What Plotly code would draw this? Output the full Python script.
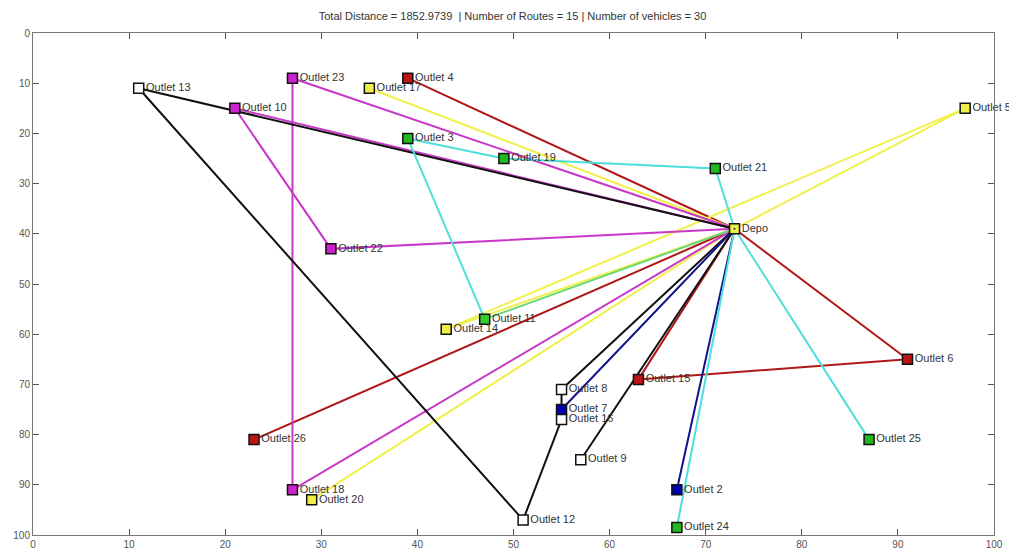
import plotly.graph_objects as go

# ---- data ----
node_names = ["Depo", "Outlet 2", "Outlet 3", "Outlet 4", "Outlet 5", "Outlet 6", "Outlet 7",
              "Outlet 8", "Outlet 9", "Outlet 10", "Outlet 11", "Outlet 12", "Outlet 13",
              "Outlet 14", "Outlet 15", "Outlet 16", "Outlet 17", "Outlet 18", "Outlet 19",
              "Outlet 20", "Outlet 21", "Outlet 22", "Outlet 23", "Outlet 24", "Outlet 25",
              "Outlet 26"]
node_x = [73, 67, 39, 39, 97, 91, 55, 55, 57, 21, 47, 51, 11, 43, 63, 55, 35, 27, 49, 29, 71, 31, 27, 67, 87, 23]
node_y = [39, 91, 21, 9, 15, 65, 75, 71, 85, 15, 57, 97, 11, 59, 69, 77, 11, 91, 25, 93, 27, 43, 9, 98.5, 81, 81]
node_fill = ["#eeee44", "#0000b0", "#22b822", "#bb1515", "#eeee44", "#bb1515", "#0000b0",
             "#ffffff", "#ffffff", "#cc22cc", "#33cc33", "#ffffff", "#ffffff",
             "#eeee44", "#bb1515", "#ffffff", "#eeee44", "#cc22cc", "#22b822",
             "#eeee44", "#22b822", "#cc22cc", "#cc22cc", "#22b822", "#22b822",
             "#bb1515"]

routes = [
    ["Depo", "Outlet 4", "Depo"],
    ["Depo", "Outlet 26", "Depo"],
    ["Depo", "Outlet 6", "Outlet 15", "Depo"],
    ["Depo", "Outlet 17", "Depo"],
    ["Depo", "Outlet 14", "Outlet 5", "Depo"],
    ["Depo", "Outlet 20", "Depo"],
    ["Depo", "Outlet 23", "Outlet 18", "Depo"],
    ["Depo", "Outlet 10", "Outlet 22", "Depo"],
    ["Depo", "Outlet 8", "Outlet 16", "Outlet 12", "Outlet 13", "Depo"],
    ["Depo", "Outlet 9", "Depo"],
    ["Depo", "Outlet 7", "Depo"],
    ["Depo", "Outlet 2", "Depo"],
    ["Depo", "Outlet 21", "Outlet 19", "Outlet 3", "Outlet 11"],
    ["Outlet 11", "Depo"],
    ["Depo", "Outlet 24", "Depo"],
    ["Depo", "Outlet 25", "Depo"],
]
route_colors = ["#b01818", "#b01818", "#b01818",
                "#f0f04a", "#f0f04a", "#f0f04a",
                "#c838c8", "#c838c8",
                "#111111", "#111111",
                "#12128c", "#12128c",
                "#4fdede", "#6ad878", "#4fdede", "#4fdede"]

title_text = "Total Distance = 1852.9739  | Number of Routes = 15 | Number of vehicles = 30"

# ---- figure ----
idx = {n: i for i, n in enumerate(node_names)}
fig = go.Figure()
for seq, col in zip(routes, route_colors):
    fig.add_trace(go.Scatter(
        x=[node_x[idx[n]] for n in seq], y=[node_y[idx[n]] for n in seq],
        mode="lines", line=dict(color=col, width=2), hoverinfo="skip", showlegend=False))

fig.add_trace(go.Scatter(
    x=node_x, y=node_y, mode="markers+text", text=node_names,
    textposition="middle right", cliponaxis=False,
    textfont=dict(family="Liberation Sans, Arial, sans-serif", size=11, color="#333333"),
    marker=dict(symbol="square", size=10, color=node_fill, line=dict(color="#111111", width=1.5)),
    showlegend=False))
# small dot in the depot marker
fig.add_trace(go.Scatter(x=[node_x[0]], y=[node_y[0]], mode="markers",
                         marker=dict(size=2, color="#222222"), showlegend=False, hoverinfo="skip"))

axis_common = dict(range=[0, 100], dtick=10, ticks="inside", ticklen=6, tickcolor="#555555",
                   showline=True, linecolor="#777777", linewidth=1, mirror="ticks",
                   showgrid=False, zeroline=False, automargin=False,
                   tickfont=dict(family="Liberation Sans, Arial, sans-serif", size=10, color="#555555"))
fig.update_xaxes(**axis_common)
fig.update_yaxes(**axis_common)
fig.update_yaxes(range=[100, 0])

# the page body adds an 8px offset, so the figure is sized to fit the window
fig.update_layout(
    width=1009, height=542,
    margin=dict(l=25, r=23, t=25, b=15, autoexpand=False),
    paper_bgcolor="white", plot_bgcolor="white",
    title=dict(text=title_text, x=0.5, xanchor="center", y=0.985, yanchor="middle",
               font=dict(family="Liberation Sans, Arial, sans-serif", size=11, color="#333333")),
)
fig.write_html("out.html")
